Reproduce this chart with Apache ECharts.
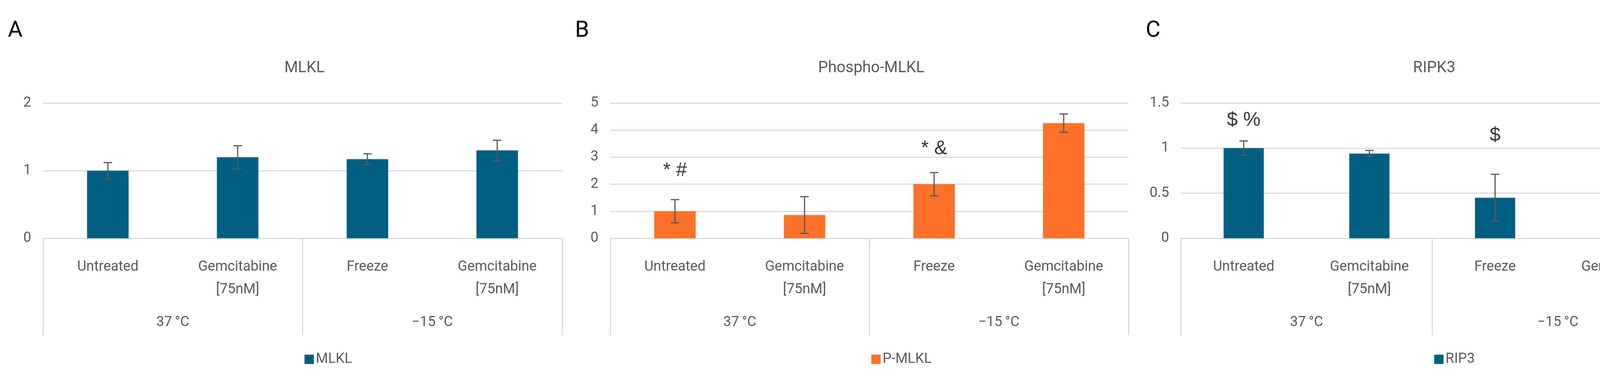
<!DOCTYPE html>
<html>
<head>
<meta charset="utf-8">
<script src="https://cdn.jsdelivr.net/npm/echarts@6/dist/echarts.min.js"></script>
<style>html,body{margin:0;background:#fff}#c{width:4314px;height:955px}</style>
</head>
<body>
<div id="c"></div>
<script>
// categories
const treatments = ['Untreated', 'Gemcitabine\n[75nM]', 'Freeze', 'Gemcitabine\n[75nM]'];
const temps = ['37\u2009\u00B0C', '\u221215\u2009\u00B0C'];

// values and errors per panel
const mlkl = [1.0, 1.2, 1.17, 1.3];
const mlklErr = [0.12, 0.17, 0.08, 0.15];
const pmlkl = [1.0, 0.86, 2.0, 4.26];
const pmlklErr = [0.43, 0.68, 0.43, 0.34];
const rip3 = [1.0, 0.94, 0.45, 0.29];
const rip3Err = [0.08, 0.035, 0.26, 0.24];

// significance marks: [category index, y, text]
const marksB = [[0, 2.5, '* #'], [2, 3.3, '* &'], [3, 5.3, '# &']];
const marksC = [[0, 1.31, '$ %'], [2, 1.14, '$'], [3, 0.82, '%']];

const font = 'Liberation Sans Narrow, Roboto, sans-serif';
const grey = '#595959';
const lineGrey = '#d9d9d9';

const panels = [
  { letter: 'A', title: 'MLKL', name: 'MLKL', vals: mlkl, err: mlklErr, color: '#005f83', max: 2, step: 1, left: 110, width: 1329, marks: [] },
  { letter: 'B', title: 'Phospho-MLKL', name: 'P-MLKL', vals: pmlkl, err: pmlklErr, color: '#ff7128', max: 5, step: 1, left: 1562, width: 1327, marks: marksB },
  { letter: 'C', title: 'RIPK3', name: 'RIP3', vals: rip3, err: rip3Err, color: '#005f83', max: 1.5, step: 0.5, left: 3023, width: 1287, marks: marksC }
];

const gridTop = 264, gridBottom = 345;
const option = { animation: false, title: [], legend: [], grid: [], xAxis: [], yAxis: [], series: [] };

panels.forEach((p, i) => {
  const cx = p.left + p.width / 2;
  option.title.push({ text: p.letter, left: p.left - 95, top: 45, textStyle: { fontSize: 58, color: '#000', fontWeight: 'normal', fontFamily: font } });
  option.title.push({ text: p.title, left: cx, textAlign: 'center', top: 150, textStyle: { fontSize: 40, color: grey, fontWeight: 'normal', fontFamily: font } });
  option.legend.push({ data: [p.name], left: cx, top: 897, textAlign: 'center', icon: 'rect', itemWidth: 24, itemHeight: 24,
    textStyle: { fontSize: 36, color: grey, fontFamily: font } });
  option.grid.push({ left: p.left, width: p.width, top: gridTop, bottom: gridBottom });
  option.xAxis.push({ type: 'category', gridIndex: i, data: treatments,
    axisLine: { lineStyle: { color: lineGrey, width: 3 } }, axisTick: { show: false },
    axisLabel: { interval: 0, fontSize: 36, color: grey, fontFamily: font, margin: 45, lineHeight: 58 } });
  option.xAxis.push({ type: 'category', gridIndex: i, data: temps, position: 'bottom', offset: 248,
    axisLine: { show: false },
    axisTick: { show: true, inside: true, length: 248, lineStyle: { color: lineGrey, width: 3 } },
    axisLabel: { inside: true, margin: 14, fontSize: 36, color: grey, fontFamily: font } });
  option.yAxis.push({ type: 'value', gridIndex: i, min: 0, max: p.max, interval: p.step,
    axisLine: { show: false }, axisTick: { show: false },
    splitLine: { lineStyle: { color: lineGrey, width: 3 } },
    axisLabel: { fontSize: 36, color: grey, fontFamily: font, margin: 30 } });
  option.series.push({ type: 'bar', name: p.name, xAxisIndex: i * 2, yAxisIndex: i, data: p.vals,
    barWidth: '32%', itemStyle: { color: p.color } });
  option.series.push({ type: 'custom', xAxisIndex: i * 2, yAxisIndex: i, silent: true, z: 10,
    data: p.vals.map((v, k) => [k, v - p.err[k], v + p.err[k]]),
    renderItem: (params, api) => {
      const lo = api.coord([api.value(0), api.value(1)]);
      const hi = api.coord([api.value(0), api.value(2)]);
      const w = 11, st = { stroke: grey, lineWidth: 3 };
      return { type: 'group', children: [
        { type: 'line', shape: { x1: hi[0], y1: hi[1], x2: lo[0], y2: lo[1] }, style: st },
        { type: 'line', shape: { x1: hi[0] - w, y1: hi[1], x2: hi[0] + w, y2: hi[1] }, style: st },
        { type: 'line', shape: { x1: lo[0] - w, y1: lo[1], x2: lo[0] + w, y2: lo[1] }, style: st }
      ] };
    } });
  if (p.marks.length) {
    option.series.push({ type: 'scatter', xAxisIndex: i * 2, yAxisIndex: i, symbolSize: 0, silent: true,
      data: p.marks.map(m => ({ value: [m[0], m[1]], label: { formatter: m[2] } })),
      label: { show: true, position: 'inside', fontSize: 50, color: '#000', fontFamily: 'Liberation Sans, sans-serif' } });
  }
});

echarts.init(document.getElementById('c')).setOption(option);
</script>
</body>
</html>
